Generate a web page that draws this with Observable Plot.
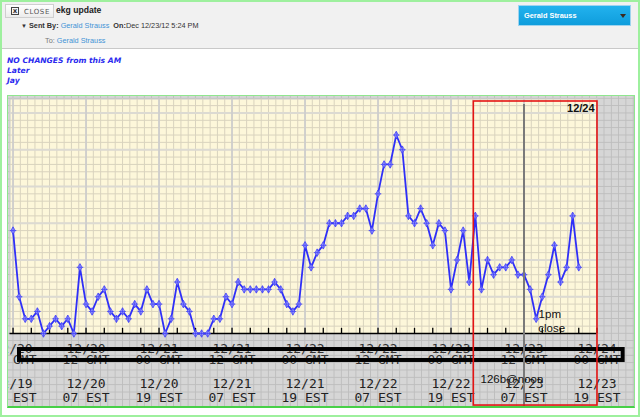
<!DOCTYPE html>
<html><head><meta charset="utf-8">
<script src="https://cdn.jsdelivr.net/npm/d3@7"></script>
<script src="https://cdn.jsdelivr.net/npm/@observablehq/plot@0.6"></script>
<style>
html,body{margin:0;padding:0;background:#fff;}
#page{position:relative;width:640px;height:417px;overflow:hidden;font-family:"Liberation Sans",Arial,sans-serif;box-sizing:border-box;border:2px solid #9ef09e;}
.abs{position:absolute;white-space:nowrap;line-height:1;}
#header{position:absolute;left:0;top:0;width:636px;height:46px;background:#f1f1f1;border-bottom:1px solid #c9c9c9;}
#closebtn{position:absolute;left:3px;top:2px;width:47px;height:12px;background:linear-gradient(#ffffff,#ececec);border:1px solid #cfcfcf;}
#xicon{position:absolute;left:5px;top:2px;width:6px;height:6px;border:1px solid #444;font-size:7px;line-height:6px;text-align:center;font-weight:bold;color:#333;font-family:"DejaVu Sans",sans-serif;}
#closetxt{position:absolute;left:18px;top:3px;font-size:7px;letter-spacing:0.6px;color:#555;font-family:"DejaVu Sans",sans-serif;}
.blue{color:#3f93d6;}
#dropdown{position:absolute;left:516px;top:3px;width:111px;height:19px;background:linear-gradient(#22b2ee,#0f9ddc);border:1px solid #9fd3ee;}
#chartbox{position:absolute;left:5px;top:93px;width:626px;height:310px;border:1px solid #8fe68f;border-bottom:2px solid #48d048;
 background-color:#d6d6d6;
 background-image:linear-gradient(to right,#bdbdbd 1px,transparent 1px),linear-gradient(to bottom,#bdbdbd 1px,transparent 1px);
 background-size:7.3px 7.35px;background-position:4.5px 1.8px;}
#chart{position:absolute;left:6px;top:94px;}
.note{font-family:"DejaVu Sans",sans-serif;font-weight:bold;font-style:italic;font-size:7.6px;color:#2b2bef;}
</style>
</head><body>
<div id="page">
  <div id="header">
    <div id="closebtn"><div id="xicon">x</div><div id="closetxt">CLOSE</div></div>
    <div class="abs" style="left:54px;top:4px;font-size:8.6px;font-weight:bold;color:#222;">ekg update</div>
    <div class="abs" style="left:19px;top:20px;font-size:7.3px;color:#333;">
      <span style="font-size:6px;">&#9660;</span> <b>Sent By:</b> <span class="blue">Gerald Strauss</span>&nbsp; <b>On:</b>Dec 12/23/12 5:24 PM</div>
    <div class="abs" style="left:43px;top:35px;font-size:7.3px;color:#777;">To: <span class="blue">Gerald Strauss</span></div>
    <div id="dropdown">
      <div class="abs" style="left:5px;top:6px;font-size:7.4px;font-weight:bold;color:#fff;">Gerald Strauss</div>
      <div class="abs" style="left:101px;top:8px;width:0;height:0;border-left:3.5px solid transparent;border-right:3.5px solid transparent;border-top:4px solid #3a2a20;"></div>
    </div>
  </div>
  <div class="abs note" style="left:5px;top:55px;">NO CHANGES from this AM</div>
  <div class="abs note" style="left:5px;top:65px;">Later</div>
  <div class="abs note" style="left:5px;top:75px;">Jay</div>
  <div id="chartbox"></div>
  <div id="chart"></div>
</div>
<script>
// hourly readings, starting 12/19 19:00 EST (hour 0)
const values = [14,5,2,2,3,0,1,2,1,2, 0,9,4,3,5,6,3,2,3,2, 4,3,6,4,4,0,2,7,4,3,
  0,0,0,2,2,5,4,7,6,6, 6,6,6,7,6,4,3,4,12,9, 11,12,15,15,15,16,16,17,17,14,
  19,23,23,27,25,16,15,17,15,12, 15,14,6,10,14,7,16,6,10,8, 9,9,10,8,8,6,2,5,8,12, 7,9,16,9];
const majorHours = [0,12,24,36,48,60,72,84,96];
const gmtDates = ["12/20","12/20","12/21","12/21","12/22","12/22","12/23","12/23","12/24"];
const gmtTimes = ["00 GMT","12 GMT","00 GMT","12 GMT","00 GMT","12 GMT","00 GMT","12 GMT","00 GMT"];
const estDates = ["12/19","12/20","12/20","12/21","12/21","12/22","12/22","12/23","12/23"];
const estTimes = ["19 EST","07 EST","19 EST","07 EST","19 EST","07 EST","19 EST","07 EST","19 EST"];
// hand-drawn annotations (hour / value units)
const redBox = [{x1: 75.75, x2: 96.08, y1: -9.8, y2: 31.56}];
const strikeBox = [{x1: 1.06, x2: 100.3, y1: -2.18, y2: -3.67}];
const markerLine = [{x: 84, y1: 31.16, y2: -10.2}];
const dateNote = [{x: 95.6, y: 30.6, text: "12/24"}];
const handNotes = [
  {x: 86.4, y: 2.55, text: "1pm"},
  {x: 86.33, y: 0.68, text: "close"},
  {x: 76.85, y: -6.26, text: "126b@noon"}
];

const data = values.map((v, i) => ({hour: i, value: v}));
const minorX = d3.range(0, 96.01, 1.2);
const minorY = d3.range(1, 32, 1);
const majorY = [5, 10, 15, 20, 25, 30];
const smallTicks = d3.range(0, 97, 3);
const mono = "DejaVu Sans Mono";

const chart = Plot.plot({
  width: 626, height: 310,
  marginLeft: 1.5, marginRight: 37.5, marginTop: 2.5, marginBottom: 73,
  x: {domain: [-0.5, 96], axis: null},
  y: {domain: [0, 31.9], axis: null},
  style: {background: "transparent", overflow: "hidden"},
  marks: [
    Plot.frame({fill: "#fdf7da", stroke: "#c9c9c9"}),
    Plot.ruleX(minorX, {stroke: "#d9d3be", strokeWidth: 1}),
    Plot.ruleY(minorY, {stroke: "#d9d3be", strokeWidth: 1}),
    Plot.ruleY(majorY, {stroke: "#dcdad2", strokeWidth: 2}),
    Plot.ruleX(majorHours, {stroke: "#cdcdcd", strokeWidth: 1.7}),
    Plot.ruleY([0], {stroke: "#000", strokeWidth: 1.3}),
    Plot.ruleX(smallTicks, {y1: 0, y2: 0.7, stroke: "#000", strokeWidth: 1.3}),
    Plot.line(data, {x: "hour", y: "value", stroke: "#2f2ff8", strokeWidth: 1.8}),
    Plot.dot(data, {x: "hour", y: "value", symbol: "diamond", r: 2.3, fill: "#a8a8ff", stroke: "#3a3af6", strokeWidth: 0.7}),
    Plot.dot(data, {x: "hour", y: "value", symbol: "plus", r: 2.3, stroke: "#3a3af6", strokeWidth: 0.7}),
    Plot.text(majorHours, {x: d => d, text: (d, i) => gmtDates[i], frameAnchor: "bottom", dy: 19, fontFamily: mono, fontSize: 13, fill: "#333"}),
    Plot.text(majorHours, {x: d => d, text: (d, i) => gmtTimes[i], frameAnchor: "bottom", dy: 30, fontFamily: mono, fontSize: 13, fill: "#333"}),
    Plot.rect(strikeBox, {x1: "x1", x2: "x2", y1: "y1", y2: "y2", fill: "none", stroke: "#000", strokeWidth: 4}),
    Plot.text(majorHours, {x: d => d, text: (d, i) => estDates[i], frameAnchor: "bottom", dy: 54, fontFamily: mono, fontSize: 13, fill: "#222"}),
    Plot.text(majorHours, {x: d => d, text: (d, i) => estTimes[i], frameAnchor: "bottom", dy: 68, fontFamily: mono, fontSize: 13, fill: "#222"}),
    Plot.ruleX(markerLine, {x: "x", y1: "y1", y2: "y2", stroke: "#7a7a7a", strokeWidth: 2}),
    Plot.rect(redBox, {x1: "x1", x2: "x2", y1: "y1", y2: "y2", fill: "none", stroke: "#e41414", strokeWidth: 1.6}),
    Plot.text(dateNote, {x: "x", y: "y", text: "text", textAnchor: "end", fontFamily: "Liberation Sans", fontWeight: "bold", fontSize: 11, fill: "#111"}),
    Plot.text(handNotes, {x: "x", y: "y", text: "text", textAnchor: "start", fontFamily: "Liberation Sans", fontSize: 11.5, fill: "#111"})
  ]
});
document.getElementById("chart").appendChild(chart);
</script>
</body></html>
